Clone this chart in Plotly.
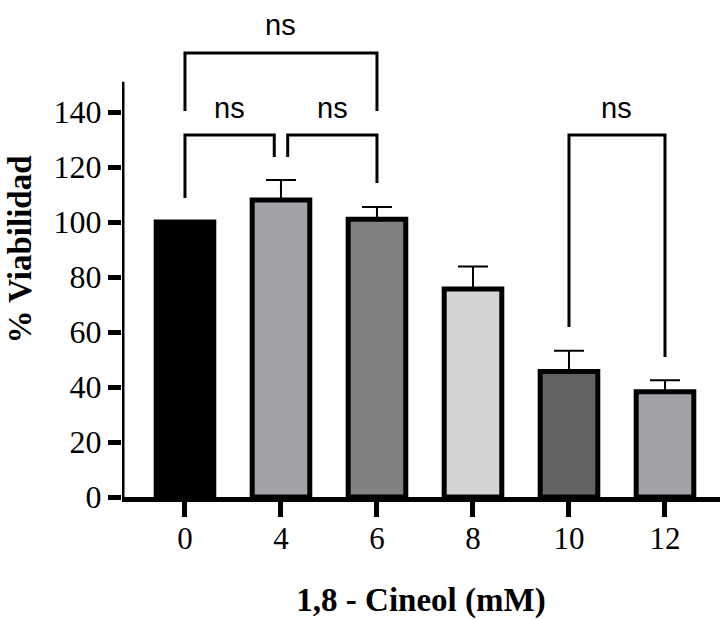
import plotly.graph_objects as go

# Data
concentrations = ["0", "4", "6", "8", "10", "12"]
viability = [100, 108, 101, 75.6, 45.6, 38.3]
sem = [0, 7.3, 4.5, 8.2, 7.6, 4.2]
bar_colors = ["#000000", "#a2a2a6", "#818181", "#d4d4d4", "#636363", "#a2a2a6"]
y_ticks = [0, 20, 40, 60, 80, 100, 120, 140]

# significance brackets: (x left, x right, y bar, left leg bottom, right leg bottom, label)
brackets = [
    (0, 2, 161.5, 140.4, 140.4, "ns"),
    (0, 0.93, 131.6, 108.7, 123.6, "ns"),
    (1.07, 2, 131.6, 123.6, 114.2, "ns"),
    (4, 5, 131.6, 61.8, 50.9, "ns"),
]

x_idx = list(range(len(concentrations)))
XMIN, XMAX = -0.656, 5.573
YMAX_AXIS = 151

fig = go.Figure()
fig.add_trace(go.Bar(
    x=x_idx, y=viability, width=0.6,
    marker=dict(color=bar_colors, line=dict(color="black", width=5)),
    error_y=dict(type="data", array=sem, arrayminus=[0] * len(sem),
                 color="black", thickness=2, width=15, visible=True),
    showlegend=False,
))

for (xl, xr, yb, yl, yr, lab) in brackets:
    fig.add_trace(go.Scatter(
        x=[xl, xl, xr, xr], y=[yl, yb, yb, yr], mode="lines",
        line=dict(color="black", width=3), showlegend=False, hoverinfo="skip",
    ))
    fig.add_annotation(x=(xl + xr) / 2, y=yb + 10, text=lab, showarrow=False,
                       font=dict(family="Liberation Sans", size=29, color="black"),
                       yanchor="middle")

# y axis line drawn only up to the top of the scale
fig.add_shape(type="line", xref="x", yref="y", x0=XMIN, x1=XMIN, y0=-1, y1=YMAX_AXIS,
              line=dict(color="black", width=5))

fig.update_layout(
    width=720, height=619,
    margin=dict(l=122, r=0, t=2, b=122),
    plot_bgcolor="white", paper_bgcolor="white",
    font=dict(family="Liberation Serif", color="black"),
    xaxis=dict(
        range=[XMIN, XMAX], tickvals=x_idx, ticktext=concentrations,
        showline=True, linecolor="black", linewidth=5,
        ticks="outside", ticklen=15, tickwidth=5, tickcolor="black",
        tickfont=dict(family="Liberation Serif", size=31), ticklabelstandoff=-5,
        showgrid=False, zeroline=False,
        title=dict(text="<b>1,8 - Cineol (mM)</b>",
                   font=dict(family="Liberation Serif", size=33), standoff=34),
    ),
    yaxis=dict(
        range=[0, 180], tickvals=y_ticks,
        showline=False, ticks="outside", ticklen=13, tickwidth=5, tickcolor="black",
        tickfont=dict(family="Liberation Serif", size=32),
        showgrid=False, zeroline=False,
        title=dict(text="<b>% Viabilidad</b>",
                   font=dict(family="Liberation Serif", size=33), standoff=12),
    ),
)

fig.write_html("out.html")
